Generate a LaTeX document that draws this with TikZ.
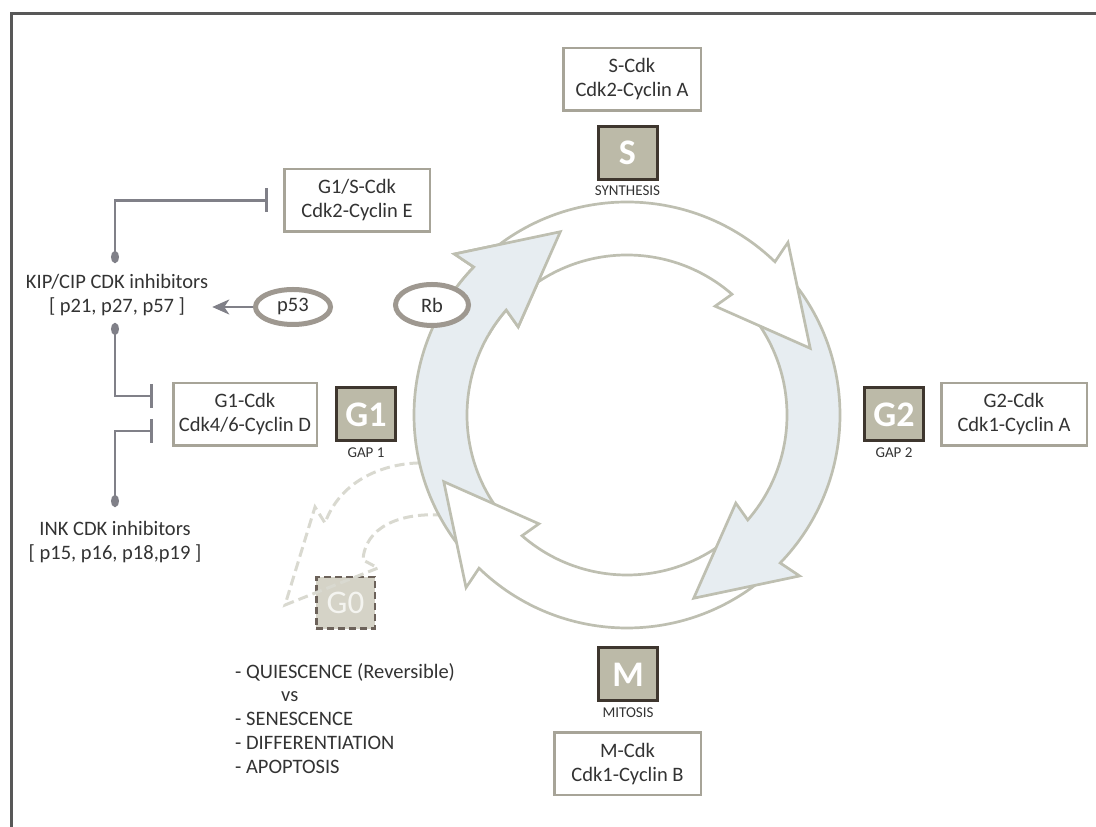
\documentclass[tikz,border=0pt]{standalone}
\usepackage{fontspec}
\setmainfont{Carlito}
\usetikzlibrary{positioning,calc,shapes.geometric,arrows.meta}

\definecolor{framegray}{HTML}{585858}
\definecolor{boxgray}{HTML}{A7A498}
\definecolor{phaseline}{HTML}{3E362E}
\definecolor{phasefill}{HTML}{BCBAA8}
\definecolor{txtgray}{HTML}{333333}
\definecolor{ovalgray}{HTML}{9E9890}
\definecolor{inhgray}{HTML}{808088}
\definecolor{ringgray}{HTML}{BEBFB1}
\definecolor{ringblue}{HTML}{E7EDF1}
\definecolor{g0fill}{HTML}{D5D3C7}
\definecolor{g0line}{HTML}{6C625A}
\definecolor{g0text}{HTML}{F4F4F0}
\definecolor{exitgray}{HTML}{D9D9D0}

\tikzset{
  cdkbox/.style={draw=boxgray, line width=2.5pt, fill=white, minimum width=145.5pt, minimum height=62.5pt,
    inner sep=0pt, align=center, text=txtgray, font=\fontsize{20.5}{24}\selectfont},
  phase/.style={draw=phaseline, line width=3pt, fill=phasefill, minimum width=59pt, minimum height=53pt,
    inner sep=0pt, text=white, font=\fontsize{36}{36}\selectfont\bfseries},
  phasename/.style={inner sep=0pt, text=txtgray, font=\fontsize{15}{15}\selectfont},
  txt/.style={inner sep=0pt, align=center, text=txtgray, font=\fontsize{20.5}{24}\selectfont},
  regulator/.style={ellipse, draw=ovalgray, line width=5pt, fill=white, inner sep=0pt,
    text=txtgray, font=\fontsize{20.5}{24}\selectfont},
  inhibit/.style={draw=inhgray, line width=2.6pt, arrows={Ellipse[length=12pt,width=8pt]-Bar[width=24pt]}},
  activate/.style={draw=inhgray, line width=2.6pt, arrows={-Stealth[length=17pt,width=15pt,inset=5pt]}},
  ringline/.style={draw=ringgray, line width=2.7pt, line join=miter},
  quiescent/.style={draw=g0line, line width=2.5pt, dash pattern=on 7pt off 4pt, fill=g0fill,
    minimum width=58.5pt, minimum height=51.5pt, text=g0text, font=\fontsize{33}{33}\selectfont},
  exitpath/.style={draw=exitgray, line width=3pt, dash pattern=on 10pt off 5pt}
}

\newcommand{\ringarrow}[4]{%
  \filldraw[ringline, fill=#1]
    ($(C)+(#2:213)$) arc[start angle=#2, end angle=#3, radius=213pt]
    -- ($(C)+(#3+1:236)$) -- ($(C)+(#4:195)$) -- ($(C)+(#3+5:140)$)
    -- ($(C)+(#3+3:160)$) arc[start angle=#3+3, end angle=#2, radius=160pt] -- cycle;
}

\begin{document}
\begin{tikzpicture}[x=1pt,y=1pt]
    \useasboundingbox (0,0) rectangle (1096,827);
    \draw[line width=3pt, framegray] (1096,813) -- (11,813) -- (11,0);

    \coordinate (C) at (627,412);
    \node[quiescent] (g0) at (345.5,224) {G0};
    \coordinate (exitA) at ($(C)+(193:213)$);
    \coordinate (exitB) at ($(C)+(208:213)$);
    \draw[exitpath] (exitA) .. controls (380,363) and (340,345) .. (325,304) -- (315,320) -- (285,222)
        -- (378,259) -- (363,267) .. controls (365,300) and (400,314) .. (exitB);

    \ringarrow{ringblue}{220}{136}{110}
    \ringarrow{white}{-52}{-134}{-160}
    \ringarrow{ringblue}{38}{-44}{-70}
    \ringarrow{white}{128}{46}{20}
    \begin{scope}
        \clip (C) -- ($(C)+(100:300)$) -- ($(C)+(125:400)$) -- ($(C)+(150:300)$) -- cycle;
        \ringarrow{ringblue}{220}{136}{110}
    \end{scope}

    \node[phase] (s) at (627.5,674) {S};
    \node[phasename, below=5pt of s] (slbl) {SYNTHESIS};
    \node[cdkbox, minimum width=137.5pt] (scdk) at (632,747.5) {S-Cdk\\Cdk2-Cyclin A};
    \node[phase] (g1) at (366,412.5) {G1};
    \node[phasename, below=5pt of g1] (g1lbl) {GAP 1};
    \node[cdkbox, minimum width=143.5pt] (g1cdk) at (245,412.5) {G1-Cdk\\Cdk4/6-Cyclin D};
    \node[cdkbox] (g1s) at (357,626.5) {G1/S-Cdk\\Cdk2-Cyclin E};
    \node[phase] (g2) at (894,412.5) {G2};
    \node[phasename, below=5pt of g2] (g2lbl) {GAP 2};
    \node[cdkbox] (g2cdk) at (1014,412.5) {G2-Cdk\\Cdk1-Cyclin A};
    \node[phase] (m) at (628,152.5) {M};
    \node[phasename, below=5pt of m] (mlbl) {MITOSIS};
    \node[cdkbox, minimum width=146.5pt] (mcdk) at (627.5,63) {M-Cdk\\Cdk1-Cyclin B};

    \node[txt] (kip) at (117,532) {KIP/CIP CDK inhibitors\\{[} p21, p27, p57 {]}};
    \node[txt] (ink) at (115,284.5) {INK CDK inhibitors\\{[} p15, p16, p18,p19 {]}};
    \node[regulator, minimum width=75pt, minimum height=35pt] (p53) at (293,520) {p53};
    \node[regulator, minimum width=73pt, minimum height=41pt] (rb) at (432,522) {Rb};
    \node[txt, align=left, anchor=north west, font=\fontsize{20.5}{23.8}\selectfont] (fates) at (235,164)
        {- QUIESCENCE (Reversible)\\\hspace*{46pt}vs\\- SENESCENCE\\- DIFFERENTIATION\\- APOPTOSIS};

    \draw[inhibit] ([xshift=-2pt,yshift=11pt]kip.north) |- ([xshift=-15pt]g1s.west);
    \draw[inhibit] ([xshift=-2pt,yshift=-7pt]kip.south) |- ([xshift=-19pt,yshift=18.5pt]g1cdk.west);
    \draw[inhibit] ([yshift=14.5pt]ink.north) |- ([xshift=-19pt,yshift=-16.5pt]g1cdk.west);
    \draw[activate, shorten >=4pt] (p53.west) -- (p53.west -| kip.east);
\end{tikzpicture}
\end{document}
